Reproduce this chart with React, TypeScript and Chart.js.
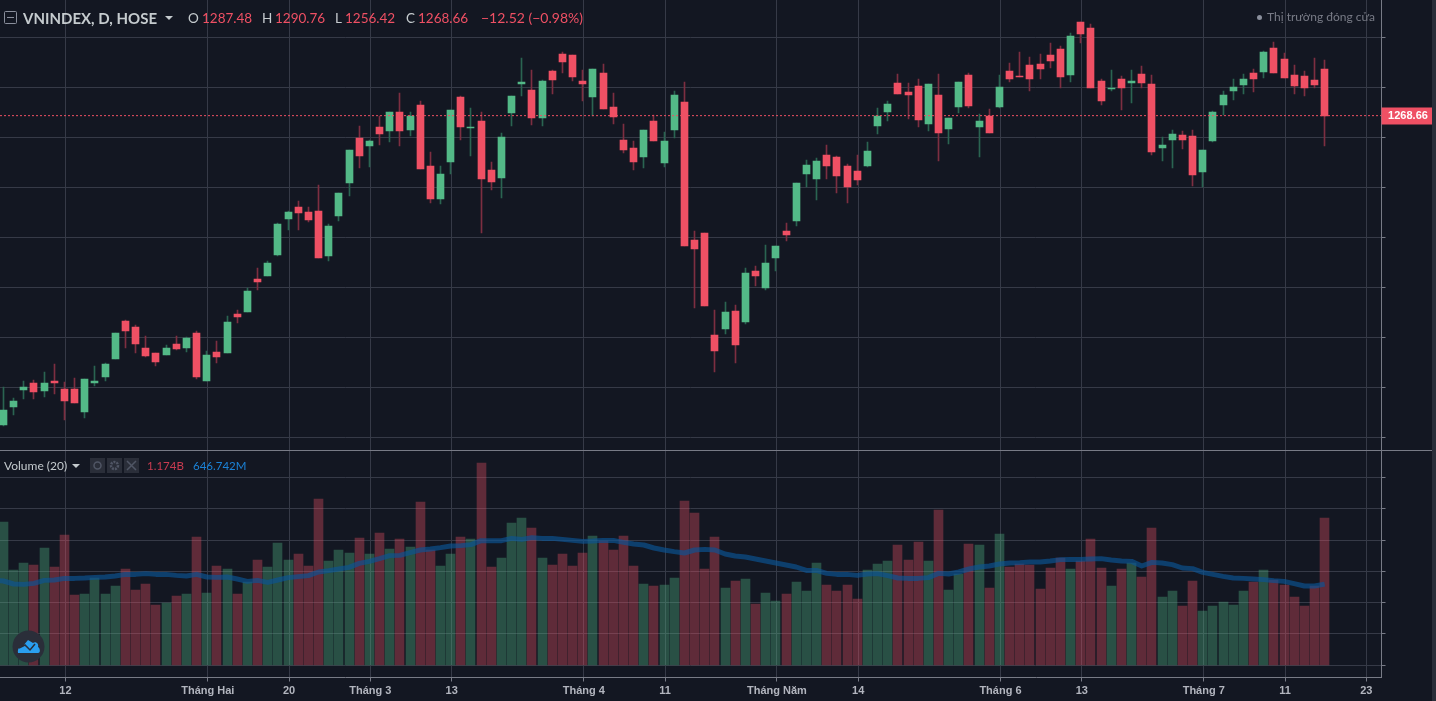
import React, { useRef, useEffect } from "react";
import Chart from "chart.js/auto";

const opens = [
  1144.9, 1152.1, 1158.9, 1161.7, 1158.5, 1162.5, 1159.3, 1159.3, 1150.1, 1161.7,
  1164.1, 1171.3, 1186.5, 1184.1, 1175.7, 1173.7, 1172.9, 1177.3, 1175.7, 1181.7,
  1162.5, 1174.1, 1173.7, 1189.3, 1190.1, 1203.3, 1204.5, 1212.9, 1227.3, 1232.1,
  1230.1, 1230.5, 1212.5, 1228.5, 1241.7, 1259.7, 1256.5, 1264.1, 1262.5, 1270.1,
  1262.9, 1272.9, 1248.5, 1235.3, 1250.1, 1276.1, 1263.7, 1266.5, 1246.9, 1243.7,
  1269.7, 1281.3, 1278.9, 1267.7, 1286.5, 1293.3, 1292.9, 1282.5, 1276.1, 1285.7,
  1272.1, 1258.9, 1255.7, 1252.1, 1266.5, 1249.7, 1262.9, 1274.1, 1218.9, 1221.7,
  1180.9, 1183.3, 1190.5, 1186.1, 1206.5, 1199.7, 1211.7, 1222.5, 1226.5, 1245.3,
  1243.3, 1252.9, 1252.1, 1248.5, 1246.5, 1248.5, 1264.5, 1270.1, 1281.7, 1278.1,
  1280.5, 1265.3, 1276.9, 1263.3, 1272.1, 1284.9, 1264.1, 1268.5, 1272.1, 1286.5,
  1284.5, 1288.9, 1289.3, 1292.9, 1295.3, 1284.9, 1306.1, 1303.7, 1282.5, 1279.3,
  1283.3, 1281.7, 1285.3, 1281.3, 1255.7, 1258.9, 1260.9, 1260.5, 1246.1, 1258.5,
  1272.9, 1278.5, 1280.9, 1285.7, 1286.1, 1295.7, 1291.3, 1284.9, 1284.5, 1282.9,
  1287.48,
];

const highs = [
  1160.1, 1155.7, 1162.5, 1162.9, 1166.1, 1169.3, 1162.1, 1163.7, 1163.3, 1168.5,
  1169.7, 1181.7, 1186.9, 1184.9, 1180.5, 1173.7, 1176.9, 1180.5, 1180.1, 1182.5,
  1174.5, 1178.5, 1188.5, 1190.9, 1199.7, 1207.7, 1210.5, 1225.7, 1230.5, 1234.5,
  1232.1, 1240.9, 1225.3, 1237.7, 1254.9, 1264.5, 1258.9, 1268.5, 1270.1, 1277.7,
  1270.1, 1274.5, 1254.1, 1248.5, 1270.9, 1276.5, 1271.7, 1270.1, 1250.1, 1261.7,
  1276.5, 1291.7, 1286.9, 1282.9, 1286.9, 1294.1, 1292.9, 1286.9, 1287.3, 1289.3,
  1277.7, 1265.3, 1258.5, 1262.9, 1268.9, 1262.1, 1278.5, 1282.1, 1222.5, 1221.7,
  1190.9, 1194.1, 1192.9, 1207.7, 1208.5, 1216.9, 1216.5, 1225.7, 1241.7, 1250.9,
  1251.7, 1256.9, 1252.5, 1249.3, 1252.9, 1258.1, 1271.7, 1274.5, 1285.3, 1281.7,
  1283.3, 1281.3, 1285.3, 1267.7, 1282.1, 1285.7, 1269.3, 1271.3, 1284.9, 1289.7,
  1294.1, 1292.1, 1293.3, 1297.7, 1296.5, 1301.7, 1306.1, 1305.3, 1283.3, 1286.9,
  1284.5, 1286.9, 1288.5, 1284.9, 1260.1, 1262.9, 1262.5, 1262.9, 1254.9, 1270.5,
  1278.5, 1283.3, 1285.3, 1287.3, 1294.5, 1298.1, 1293.7, 1288.9, 1286.5, 1291.7,
  1290.76,
];

const lows = [
  1144.5, 1148.9, 1155.3, 1155.3, 1156.1, 1157.3, 1146.9, 1153.7, 1147.7, 1160.5,
  1162.5, 1171.3, 1175.7, 1173.7, 1172.1, 1168.5, 1172.9, 1174.9, 1174.1, 1163.3,
  1162.5, 1169.7, 1173.7, 1185.7, 1190.1, 1198.9, 1204.5, 1212.5, 1222.9, 1222.9,
  1226.1, 1211.7, 1210.5, 1226.5, 1236.5, 1247.7, 1248.1, 1256.9, 1258.1, 1256.5,
  1260.5, 1247.3, 1233.7, 1233.3, 1245.3, 1258.9, 1252.5, 1221.7, 1238.9, 1235.7,
  1264.5, 1276.5, 1264.9, 1264.5, 1277.3, 1285.7, 1282.5, 1274.5, 1268.5, 1271.3,
  1265.3, 1253.7, 1246.9, 1247.7, 1258.5, 1248.1, 1259.7, 1216.5, 1191.7, 1192.5,
  1166.1, 1181.3, 1169.7, 1185.3, 1200.5, 1198.9, 1206.5, 1218.5, 1224.5, 1240.1,
  1234.9, 1243.3, 1237.7, 1233.7, 1240.9, 1248.1, 1261.3, 1266.5, 1277.3, 1267.3,
  1264.1, 1262.5, 1250.5, 1257.3, 1269.7, 1271.7, 1252.1, 1261.7, 1271.7, 1282.1,
  1284.1, 1278.5, 1283.3, 1287.7, 1279.7, 1282.1, 1297.7, 1279.7, 1272.9, 1278.5,
  1270.9, 1273.7, 1279.7, 1252.9, 1250.5, 1247.7, 1255.3, 1240.5, 1240.1, 1258.1,
  1268.9, 1274.9, 1277.3, 1278.1, 1283.7, 1285.7, 1283.7, 1277.3, 1276.5, 1279.7,
  1256.42,
];

const closes = [
  1150.9, 1154.5, 1160.1, 1158.1, 1161.7, 1161.7, 1154.5, 1153.7, 1163.3, 1162.5,
  1169.3, 1181.7, 1182.5, 1177.3, 1172.5, 1170.1, 1175.7, 1175.3, 1179.7, 1164.1,
  1172.9, 1172.1, 1186.1, 1188.1, 1198.5, 1202.1, 1209.7, 1225.3, 1230.1, 1229.7,
  1226.9, 1211.7, 1224.5, 1237.7, 1254.9, 1252.5, 1258.5, 1261.3, 1270.1, 1262.5,
  1268.5, 1247.3, 1235.3, 1245.3, 1270.9, 1264.1, 1264.1, 1243.3, 1242.1, 1260.1,
  1276.5, 1282.1, 1267.7, 1282.5, 1282.9, 1290.1, 1284.1, 1281.3, 1287.3, 1271.3,
  1268.1, 1254.9, 1250.1, 1262.9, 1258.5, 1258.5, 1276.9, 1216.5, 1215.3, 1192.5,
  1174.5, 1190.1, 1176.9, 1205.7, 1204.5, 1209.7, 1216.5, 1220.9, 1241.7, 1248.9,
  1250.5, 1248.5, 1244.5, 1240.1, 1242.9, 1254.5, 1268.5, 1273.3, 1277.3, 1276.9,
  1266.9, 1281.3, 1261.7, 1267.7, 1282.1, 1272.5, 1266.5, 1261.7, 1280.1, 1283.3,
  1284.1, 1283.3, 1287.3, 1290.5, 1284.1, 1300.5, 1301.3, 1279.7, 1274.5, 1279.7,
  1279.7, 1282.5, 1281.7, 1254.1, 1256.9, 1261.3, 1258.9, 1244.9, 1254.9, 1270.1,
  1276.9, 1280.1, 1283.3, 1283.3, 1294.1, 1285.7, 1283.7, 1280.5, 1279.7, 1280.9,
  1268.66,
];

// millions of shares
const volumes = [
  1144, 760, 816, 800, 936, 784, 1040, 560, 568, 696,
  568, 632, 768, 600, 648, 480, 496, 552, 568, 1024,
  576, 792, 768, 568, 664, 840, 784, 976, 840, 888,
  792, 1328, 832, 920, 896, 1016, 888, 1056, 928, 1008,
  944, 1304, 920, 792, 888, 1024, 1008, 1616, 784, 856,
  1136, 1176, 1096, 856, 800, 888, 792, 896, 1032, 992,
  920, 1032, 792, 648, 632, 640, 696, 1312, 1216, 768,
  1024, 616, 672, 688, 488, 576, 512, 568, 664, 592,
  816, 640, 592, 640, 528, 760, 808, 832, 960, 840,
  984, 832, 1240, 600, 728, 968, 960, 616, 1048, 784,
  808, 800, 608, 776, 856, 768, 832, 1008, 776, 632,
  768, 816, 704, 1096, 544, 592, 472, 672, 432, 472,
  504, 480, 592, 664, 760, 680, 640, 544, 472, 632,
  1174,
];

const volumeMa = [
  672, 648, 645, 653, 677, 680, 693, 693, 696, 701,
  704, 712, 725, 725, 731, 725, 725, 717, 712, 725,
  704, 701, 704, 688, 669, 677, 661, 680, 699, 707,
  715, 744, 755, 768, 781, 813, 829, 851, 875, 877,
  899, 920, 928, 939, 952, 955, 963, 995, 995, 995,
  1013, 1005, 1019, 1013, 1013, 1005, 997, 989, 992, 997,
  997, 981, 968, 960, 936, 920, 907, 896, 920, 925,
  920, 888, 872, 864, 848, 832, 816, 800, 784, 757,
  757, 733, 725, 725, 717, 728, 731, 715, 696, 693,
  693, 699, 733, 728, 744, 768, 784, 792, 808, 816,
  819, 824, 824, 832, 843, 845, 845, 848, 851, 840,
  832, 829, 792, 821, 816, 803, 776, 771, 741, 725,
  709, 696, 693, 688, 683, 675, 669, 651, 632, 632,
  647,
];
const volumeMaBefore = 680; // the day just left of the frame, the line comes in from it

const dayTicks = [6, 20, 28, 36, 44, 57, 65, 76, 84, 98, 106, 118, 126, 134];
const dayTickLabels = ["12", "Tháng Hai", "20", "Tháng 3", "13", "Tháng 4", "11", "Tháng Năm", "14", "Tháng 6", "13", "Tháng 7", "11", "23"];
const priceTicks = [1140, 1160, 1180, 1200, 1220, 1240, 1260, 1280, 1300];
const volumeTicks = [0, 250, 500, 750, 1000, 1250, 1500];
const lastPrice = 1268.66;

const UP = "#53b987";
const DOWN = "#ef5064";
const UP_WICK = "#2a6451";
const DOWN_WICK = "#7d2e41";
const UP_VOL = "rgba(83,185,135,0.35)";
const DOWN_VOL = "rgba(239,80,100,0.35)";
const GRID = "#363a47";
const AXIS = "#787b86";
const BG = "#131722";
const FONT = "Lato, 'Liberation Sans', sans-serif";

const isUp = (i: number) => closes[i] >= opens[i];
const gridNudge = 0.1; // vertical lines sit a pixel right of the candle in the reference

// keeps bars on whole pixels, the reference has crisp edges
const snapBars = {
  id: "snapBars",
  afterDatasetsUpdate(chart: any) {
    chart.getSortedVisibleDatasetMetas().forEach((meta: any) => {
      if (meta.type !== "bar") return;
      meta.data.forEach((el: any) => {
        el.x = Math.floor(el.x) + 0.5;
        el.y = Math.round(el.y);
        el.base = Math.round(el.base);
      });
    });
  },
};

const paneExtras = {
  id: "paneExtras",
  afterDraw(chart: any) {
    const { ctx, scales } = chart;
    const sep = Math.floor(scales.yVol.top) + 0.5;
    ctx.save();
    ctx.strokeStyle = AXIS;
    ctx.lineWidth = 1;
    ctx.beginPath();
    ctx.moveTo(0, sep);
    ctx.lineTo(1432, sep);
    ctx.stroke();

    const y = scales.yPrice.getPixelForValue(lastPrice);
    const left = scales.yPrice.left;
    ctx.fillStyle = DOWN;
    ctx.fillRect(left, Math.round(y) - 8.5, 51, 17);
    ctx.fillStyle = "#fff";
    ctx.font = "bold 11px 'Liberation Sans', sans-serif";
    ctx.textAlign = "center";
    ctx.textBaseline = "middle";
    ctx.fillText(lastPrice.toFixed(2), left + 26.5, y + 0.5);
    ctx.restore();
  },
};

const label = (left: number, top: number, text: string, color: string, size = 13.5, weight = 400) => (
  <span
    style={{
      position: "absolute",
      left,
      top,
      color,
      fontSize: size,
      fontWeight: weight,
      fontFamily: FONT,
      lineHeight: "16px",
      whiteSpace: "nowrap",
    }}
  >
    {text}
  </span>
);

const Caret = ({ left, top }: { left: number; top: number }) => (
  <div
    style={{
      position: "absolute",
      left,
      top,
      width: 0,
      height: 0,
      borderLeft: "4px solid transparent",
      borderRight: "4px solid transparent",
      borderTop: "4px solid #c5cbce",
    }}
  />
);

const iconBox = (left: number, glyph: React.ReactNode) => (
  <svg style={{ position: "absolute", left, top: 458 }} width={15} height={15} viewBox="0 0 15 15">
    <rect width={15} height={15} fill="#2a2e39" />
    {glyph}
  </svg>
);

const App = () => {
  const chartRef = useRef<HTMLCanvasElement | null>(null);
  const chartInstanceRef = useRef<Chart | null>(null);

  useEffect(() => {
    const ctx = chartRef.current?.getContext("2d");
    if (chartInstanceRef.current) {
      chartInstanceRef.current.destroy();
    }
    if (ctx) {
      const idx = opens.map((_, i) => i);
      const xMin = -0.344;
      const xMax = 135.59;
      chartInstanceRef.current = new Chart(ctx, {
        type: "bar",
        data: {
          datasets: [
            {
              type: "line",
              data: [
                { x: xMin, y: lastPrice },
                { x: xMax, y: lastPrice },
              ],
              yAxisID: "yPrice",
              borderColor: DOWN,
              borderWidth: 1,
              borderDash: [2, 2],
              pointRadius: 0,
              order: 0,
            },
            {
              data: idx.map((i) => ({ x: i, y: [opens[i], closes[i]] })),
              yAxisID: "yPrice",
              backgroundColor: idx.map((i) => (isUp(i) ? UP : DOWN)),
              barThickness: 7,
              grouped: false,
              order: 1,
            },
            {
              data: idx.map((i) => ({ x: i, y: [lows[i], highs[i]] })),
              yAxisID: "yPrice",
              backgroundColor: idx.map((i) => (isUp(i) ? UP_WICK : DOWN_WICK)),
              barThickness: 1,
              grouped: false,
              order: 2,
            },
            {
              type: "line",
              data: [{ x: -1, y: volumeMaBefore }, ...idx.map((i) => ({ x: i, y: volumeMa[i] }))],
              yAxisID: "yVol",
              borderColor: "rgba(10,85,150,0.65)",
              borderWidth: 5,
              pointRadius: 0,
              borderJoinStyle: "round",
              order: 3,
            },
            {
              data: idx.map((i) => ({ x: i, y: volumes[i] })),
              yAxisID: "yVol",
              backgroundColor: idx.map((i) => (isUp(i) ? UP_VOL : DOWN_VOL)),
              barThickness: 9,
              grouped: false,
              order: 4,
            },
          ] as any,
        },
        options: {
          responsive: false,
          animation: false,
          events: [],
          layout: { padding: 0 },
          plugins: {
            legend: { display: false },
            title: { display: false },
            tooltip: { enabled: false },
          },
          scales: {
            x: {
              type: "linear",
              min: xMin,
              max: xMax,
              offset: false,
              afterBuildTicks: (scale: any) => {
                scale.ticks = dayTicks.map((t) => ({ value: t + gridNudge }));
              },
              afterFit: (scale: any) => {
                scale.height = 23.5;
              },
              grid: { color: GRID, offset: false, tickColor: AXIS, tickLength: 4 },
              border: { color: AXIS },
              ticks: {
                autoSkip: false,
                maxRotation: 0,
                padding: 3,
                color: "#b2b5be",
                font: { family: "'Liberation Sans', sans-serif", size: 11, weight: "bold" },
                callback: (value: any) => dayTickLabels[dayTicks.indexOf(Math.round(value - gridNudge))],
              },
            },
            yPrice: {
              type: "linear",
              position: "right",
              stack: "panes",
              stackWeight: 450,
              weight: 1,
              min: 1134.92,
              max: 1314.92,
              afterBuildTicks: (scale: any) => {
                scale.ticks = priceTicks.map((t) => ({ value: t }));
              },
              afterFit: (scale: any) => {
                scale.width = 54.5;
              },
              grid: { color: GRID, tickColor: AXIS, tickLength: 4 },
              border: { color: AXIS },
              ticks: { display: false },
            },
            yVol: {
              type: "linear",
              position: "right",
              stack: "panes",
              stackWeight: 227.5,
              weight: 2,
              min: -100,
              max: 1720,
              afterBuildTicks: (scale: any) => {
                scale.ticks = volumeTicks.map((t) => ({ value: t }));
              },
              afterFit: (scale: any) => {
                scale.width = 54.5;
              },
              grid: { color: GRID, tickColor: AXIS, tickLength: 4 },
              border: { color: AXIS },
              ticks: { display: false },
            },
          },
        } as any,
        plugins: [snapBars, paneExtras],
      });
    }

    return () => {
      if (chartInstanceRef.current) {
        chartInstanceRef.current.destroy();
      }
    };
  }, []);

  return (
    <div style={{ position: "fixed", left: 0, top: 0, width: 1436, height: 701, background: BG, overflow: "hidden" }}>
      <canvas ref={chartRef} width={1436} height={701} style={{ position: "absolute", left: 0, top: 0 }} />
      <div style={{ position: "absolute", left: 1432, top: 0, width: 4, height: 701, background: "#2a2e39" }} />

      <svg style={{ position: "absolute", left: 4, top: 11 }} width={13} height={13} viewBox="0 0 13 13">
        <rect x={0.5} y={0.5} width={12} height={12} rx={1} fill="none" stroke="#8a8f9c" />
        <line x1={3} y1={6.5} x2={10} y2={6.5} stroke="#8a8f9c" />
      </svg>
      {label(23, 10, "VNINDEX, D, HOSE", "#c5cbce", 15, 700)}
      <Caret left={165} top={16} />
      {label(188, 10, "O", "#c5cbce")}
      {label(202, 10, "1287.48", DOWN)}
      {label(262, 10, "H", "#c5cbce")}
      {label(275, 10, "1290.76", DOWN)}
      {label(335, 10, "L", "#c5cbce")}
      {label(345, 10, "1256.42", DOWN)}
      {label(406, 10, "C", "#c5cbce")}
      {label(418, 10, "1268.66", DOWN)}
      {label(481, 10, "−12.52 (−0.98%)", DOWN, 14)}

      <div style={{ position: "absolute", left: 1257, top: 15, width: 5, height: 5, borderRadius: 3, background: "#8a8f9c" }} />
      {label(1267, 9, "Thị trường đóng cửa", "#787b86", 12)}

      {label(4, 458, "Volume (20)", "#c5cbce", 12)}
      <Caret left={72} top={464} />
      {iconBox(90, <circle cx={7.5} cy={7.5} r={3.5} fill="none" stroke="#505665" strokeWidth={1.5} />)}
      {iconBox(107, <circle cx={7.5} cy={7.5} r={3.5} fill="none" stroke="#505665" strokeWidth={2.5} strokeDasharray="2 1" />)}
      {iconBox(124, <path d="M3 3 L12 12 M12 3 L3 12" stroke="#505665" strokeWidth={1.5} />)}
      {label(147, 458, "1.174B", "#c93b50", 11.5)}
      {label(193, 458, "646.742M", "#1b83d8", 11.5)}

      <svg style={{ position: "absolute", left: 12, top: 630 }} width={33} height={33} viewBox="0 0 33 33">
        <circle cx={16.5} cy={16.5} r={16} fill="#2a2e39" />
        <path d="M6 23 C5 18 9 16 11 16 L16 10 L21 13 C24 11 27 14 26 17 C28 18 29 23 26 23 Z" fill="#2a9ff0" />
        <path d="M7 18 L13 15 L18 20 L23 14" fill="none" stroke="#2a2e39" strokeWidth={1.5} />
      </svg>
    </div>
  );
};

export default App;
